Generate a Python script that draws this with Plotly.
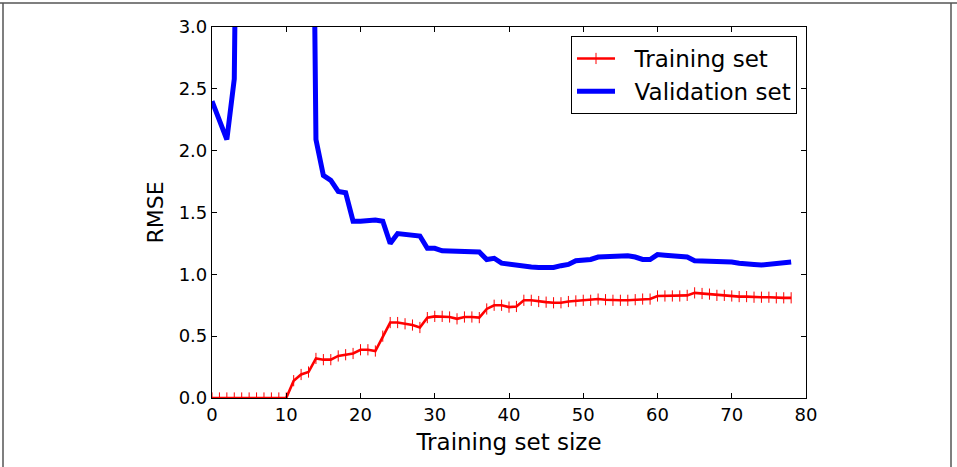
import plotly.graph_objects as go

train_sizes = list(range(0, 79))

train_rmse = [0, 0, 0, 0, 0, 0, 0, 0, 0, 0, 0,
              0.14, 0.19, 0.21, 0.32, 0.31, 0.31, 0.34, 0.35, 0.36,
              0.39, 0.39, 0.38, 0.50, 0.61, 0.61, 0.60, 0.59, 0.57, 0.65,
              0.66, 0.66, 0.655, 0.64, 0.655, 0.655, 0.65, 0.72, 0.75, 0.75,
              0.735, 0.74, 0.79, 0.79, 0.78, 0.775, 0.77, 0.77, 0.78, 0.785,
              0.79, 0.79, 0.80, 0.795, 0.79, 0.79, 0.79, 0.795, 0.80, 0.80,
              0.825, 0.825, 0.825, 0.825, 0.83, 0.85, 0.845, 0.84, 0.83, 0.83,
              0.825, 0.82, 0.82, 0.815, 0.815, 0.815, 0.81, 0.81, 0.81]

val_rmse = [2.40, 2.25, 2.09, 2.58, 9.0, 14.0, 22.0, 18.0, 30.0, 25.0,
            16.0, 12.0, 9.5, 8.0, 2.09, 1.80, 1.76, 1.67, 1.66, 1.43,
            1.43, 1.44, 1.44, 1.43, 1.25, 1.33, 1.32, 1.32, 1.31, 1.21,
            1.21, 1.19, 1.19, 1.19, 1.19, 1.185, 1.18, 1.12, 1.13, 1.09,
            1.08, 1.07, 1.065, 1.06, 1.055, 1.05, 1.055, 1.07, 1.08, 1.11,
            1.11, 1.12, 1.14, 1.145, 1.145, 1.145, 1.15, 1.14, 1.12, 1.12,
            1.16, 1.155, 1.15, 1.14, 1.14, 1.11, 1.11, 1.11, 1.11, 1.105,
            1.10, 1.09, 1.09, 1.08, 1.075, 1.08, 1.08, 1.085, 1.10]

series_names = ["Training set", "Validation set"]

x_ticks = [0, 10, 20, 30, 40, 50, 60, 70, 80]
y_ticks = [0.0, 0.5, 1.0, 1.5, 2.0, 2.5, 3.0]

FONT = "DejaVu Sans"
GAP = "\u00a0\u00a0"

fig = go.Figure()
fig.add_trace(go.Scatter(
    x=train_sizes, y=train_rmse, mode="lines+markers",
    name=GAP + series_names[0],
    line=dict(color="#ff0000", width=2.6),
    marker=dict(symbol="line-ns", size=8, color="#ff0000",
                line=dict(color="#ff0000", width=1)),
))
fig.add_trace(go.Scatter(
    x=train_sizes, y=val_rmse, mode="lines",
    name=GAP + series_names[1],
    line=dict(color="#0000ff", width=5),
))

L, R, T, B = 212, 806, 27, 398
W, H = 957, 467


def px(xp):
    return (xp - L) / (R - L)


def py(yp):
    return (B - yp) / (B - T)


frame = dict(color="#555555", width=1.5)
fig.add_shape(type="line", xref="paper", yref="paper",
              x0=px(0), x1=px(957), y0=py(3), y1=py(3), line=frame)
fig.add_shape(type="line", xref="paper", yref="paper",
              x0=px(3), x1=px(3), y0=py(3), y1=py(470), line=frame)
fig.add_shape(type="line", xref="paper", yref="paper",
              x0=px(951), x1=px(951), y0=py(3), y1=py(470), line=frame)

axis_common = dict(
    showgrid=False, zeroline=False, showline=True, linecolor="black",
    linewidth=1.2, mirror="ticks", ticks="inside", ticklen=5,
    tickcolor="black", tickwidth=1,
    tickfont=dict(family=FONT, size=18, color="black"),
)

fig.update_layout(
    width=W, height=H,
    margin=dict(l=L, r=W - R, t=T, b=H - B, pad=0),
    paper_bgcolor="white", plot_bgcolor="white",
    font=dict(family=FONT, color="black"),
    xaxis=dict(range=[0, 80], tickvals=x_ticks,
               ticktext=[str(v) for v in x_ticks],
               title=dict(text="Training set size",
                          font=dict(family=FONT, size=23), standoff=10),
               **axis_common),
    yaxis=dict(range=[0, 3.0], tickvals=y_ticks,
               ticktext=["%.1f" % v for v in y_ticks],
               title=dict(text="RMSE", font=dict(family=FONT, size=22),
                          standoff=8),
               **axis_common),
    legend=dict(x=px(797), y=py(36), xanchor="right", yanchor="top",
                bgcolor="white", bordercolor="black", borderwidth=1,
                font=dict(family=FONT, size=23, color="black"),
                itemwidth=38, tracegroupgap=0),
    showlegend=True,
)

fig.write_html("out.html",
               config={"displayModeBar": False},
               post_script="document.body.style.margin='0';")
